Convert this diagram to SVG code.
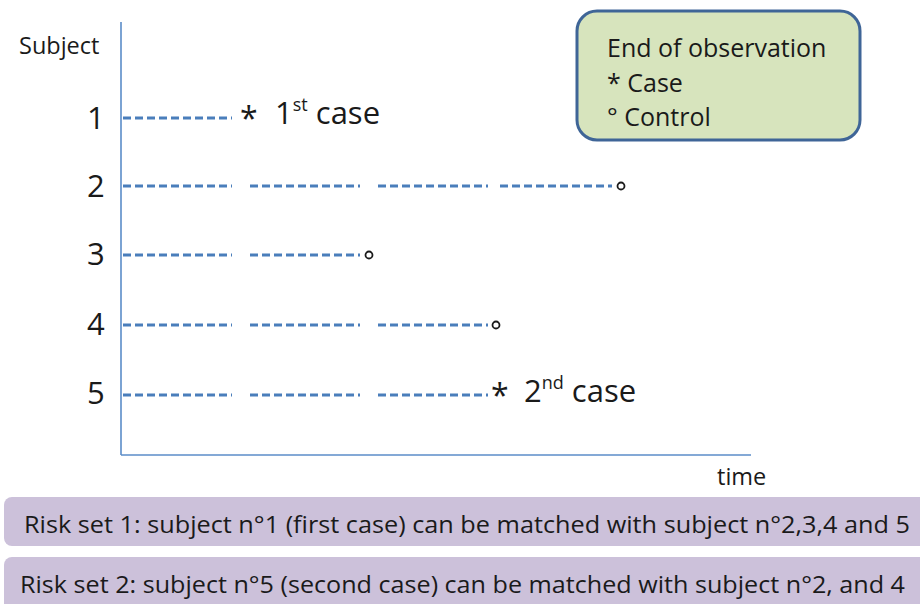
<svg xmlns="http://www.w3.org/2000/svg" width="920" height="604" viewBox="0 0 920 604">
<style>
  text { font-family: "Open Sans", "Noto Sans", "Liberation Sans", sans-serif; fill: #1a1a1a; }
  .axis { stroke: #5b8cc8; stroke-width: 1.6; fill: none; }
  .dash { stroke: #4a7ebb; stroke-width: 3; stroke-dasharray: 8 4; fill: none; }
  .ctrl { fill: none; stroke: #1a1a1a; stroke-width: 1.8; }
  .num { font-size: 31px; }
  .lbl { font-size: 23.5px; }
  .case { font-size: 31px; }
  .star { font-size: 32px; }
  .leg { font-size: 25px; }
  .risk { font-size: 23px; }
  .band { fill: #ccc1da; }
</style>
<rect width="920" height="604" fill="#ffffff"/>

<g id="axes">
  <line class="axis" x1="121" y1="22" x2="121" y2="455"/>
  <line class="axis" x1="121" y1="455" x2="751" y2="455"/>
  <text class="lbl" x="19" y="54">Subject</text>
  <text class="lbl" x="717" y="485">time</text>
</g>

<g id="legend">
  <rect x="577" y="11" width="283" height="129" rx="20" ry="20" fill="#d7e4bd" stroke="#3f6597" stroke-width="3"/>
  <text class="leg" x="607" y="57">End of observation</text>
  <text class="leg" x="607" y="92">* Case</text>
  <text class="leg" x="607" y="126">° Control</text>
</g>

<g id="connectors">
  <path class="dash" d="M123 118 H232"/>
  <path class="dash" d="M123 186 H232 M250 186 H360 M378 186 H488 M500 186 H612"/>
  <path class="dash" d="M123 255 H232 M250 255 H360"/>
  <path class="dash" d="M123 325 H232 M250 325 H360 M378 325 H488"/>
  <path class="dash" d="M123 395 H232 M250 395 H360 M378 395 H488"/>
</g>

<g id="subject1">
  <text class="num" x="87" y="129">1</text>
  <text class="star" x="240" y="130">*</text>
  <text class="case" x="275" y="124">1<tspan font-size="18" dy="-13">st</tspan><tspan dy="13"> case</tspan></text>
</g>
<g id="subject2">
  <text class="num" x="87" y="197">2</text>
  <circle class="ctrl" cx="621" cy="186" r="3.5"/>
</g>
<g id="subject3">
  <text class="num" x="87" y="265">3</text>
  <circle class="ctrl" cx="369" cy="255" r="3.5"/>
</g>
<g id="subject4">
  <text class="num" x="87" y="335">4</text>
  <circle class="ctrl" cx="496" cy="325" r="3.5"/>
</g>
<g id="subject5">
  <text class="num" x="87" y="404">5</text>
  <text class="star" x="491" y="407">*</text>
  <text class="case" x="524" y="402">2<tspan font-size="18" dy="-13">nd</tspan><tspan dy="13"> case</tspan></text>
</g>

<g id="riskset1">
  <rect class="band" x="4" y="497" width="930" height="49" rx="8" ry="8"/>
  <text class="risk" x="24" y="533" textLength="886" lengthAdjust="spacingAndGlyphs">Risk set 1: subject n°1 (first case) can be matched with subject n°2,3,4 and 5</text>
</g>
<g id="riskset2">
  <rect class="band" x="4" y="557" width="930" height="60" rx="8" ry="8"/>
  <text class="risk" x="20" y="593" textLength="885" lengthAdjust="spacingAndGlyphs">Risk set 2: subject n°5 (second case) can be matched with subject n°2, and 4</text>
</g>
</svg>
